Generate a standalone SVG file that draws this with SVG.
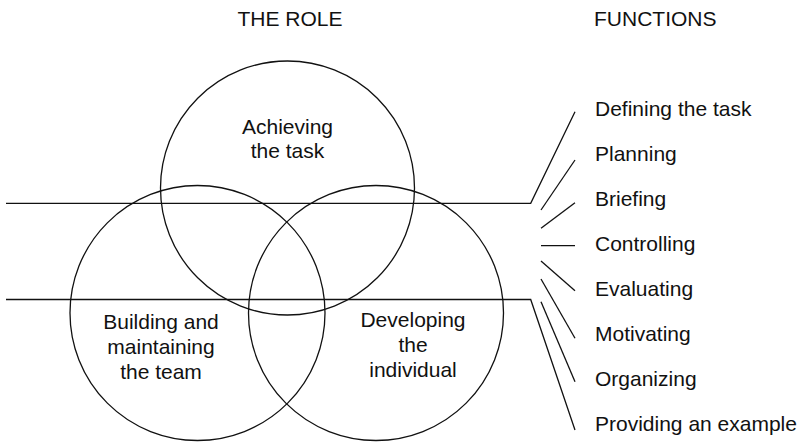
<svg xmlns="http://www.w3.org/2000/svg" width="803" height="442" viewBox="0 0 803 442">
<style>
text{font-family:"Liberation Sans",Arial,sans-serif;font-size:21px;fill:#111}
.c{text-anchor:middle}
.s{fill:none;stroke:#111;stroke-width:1.3}
</style>
<rect width="803" height="442" fill="#fff"/>
<text class="c" x="290" y="26">THE ROLE</text>
<text x="594" y="26">FUNCTIONS</text>
<g id="task"><circle class="s" cx="287.5" cy="188" r="127"/><text class="c" x="287.5" y="134">Achieving</text><text class="c" x="287.5" y="158">the task</text></g>
<g id="team"><circle class="s" cx="197.5" cy="313" r="127.5"/><text class="c" x="161" y="329">Building and</text><text class="c" x="161" y="354">maintaining</text><text class="c" x="161" y="379">the team</text></g>
<g id="individual"><circle class="s" cx="376" cy="313" r="127.5"/><text class="c" x="413" y="327">Developing</text><text class="c" x="413" y="352">the</text><text class="c" x="413" y="377">individual</text></g>
<g id="connectors" class="s">
<polyline points="6,203.3 530.7,203.3 575,111.7"/>
<polyline points="6,299.5 530.7,299.5 575,430"/>
<line x1="541" y1="210" x2="575" y2="160"/>
<line x1="541" y1="228.3" x2="575" y2="202.7"/>
<line x1="541" y1="245.7" x2="575" y2="245.7"/>
<line x1="541" y1="261" x2="575" y2="290.7"/>
<line x1="541" y1="279" x2="575" y2="338.3"/>
<line x1="541" y1="301.7" x2="575" y2="381.7"/>
</g>
<g id="functions">
<text x="595" y="116">Defining the task</text>
<text x="595" y="161">Planning</text>
<text x="595" y="206">Briefing</text>
<text x="595" y="251">Controlling</text>
<text x="595" y="296">Evaluating</text>
<text x="595" y="341">Motivating</text>
<text x="595" y="386">Organizing</text>
<text x="595" y="431">Providing an example</text>
</g>
</svg>
